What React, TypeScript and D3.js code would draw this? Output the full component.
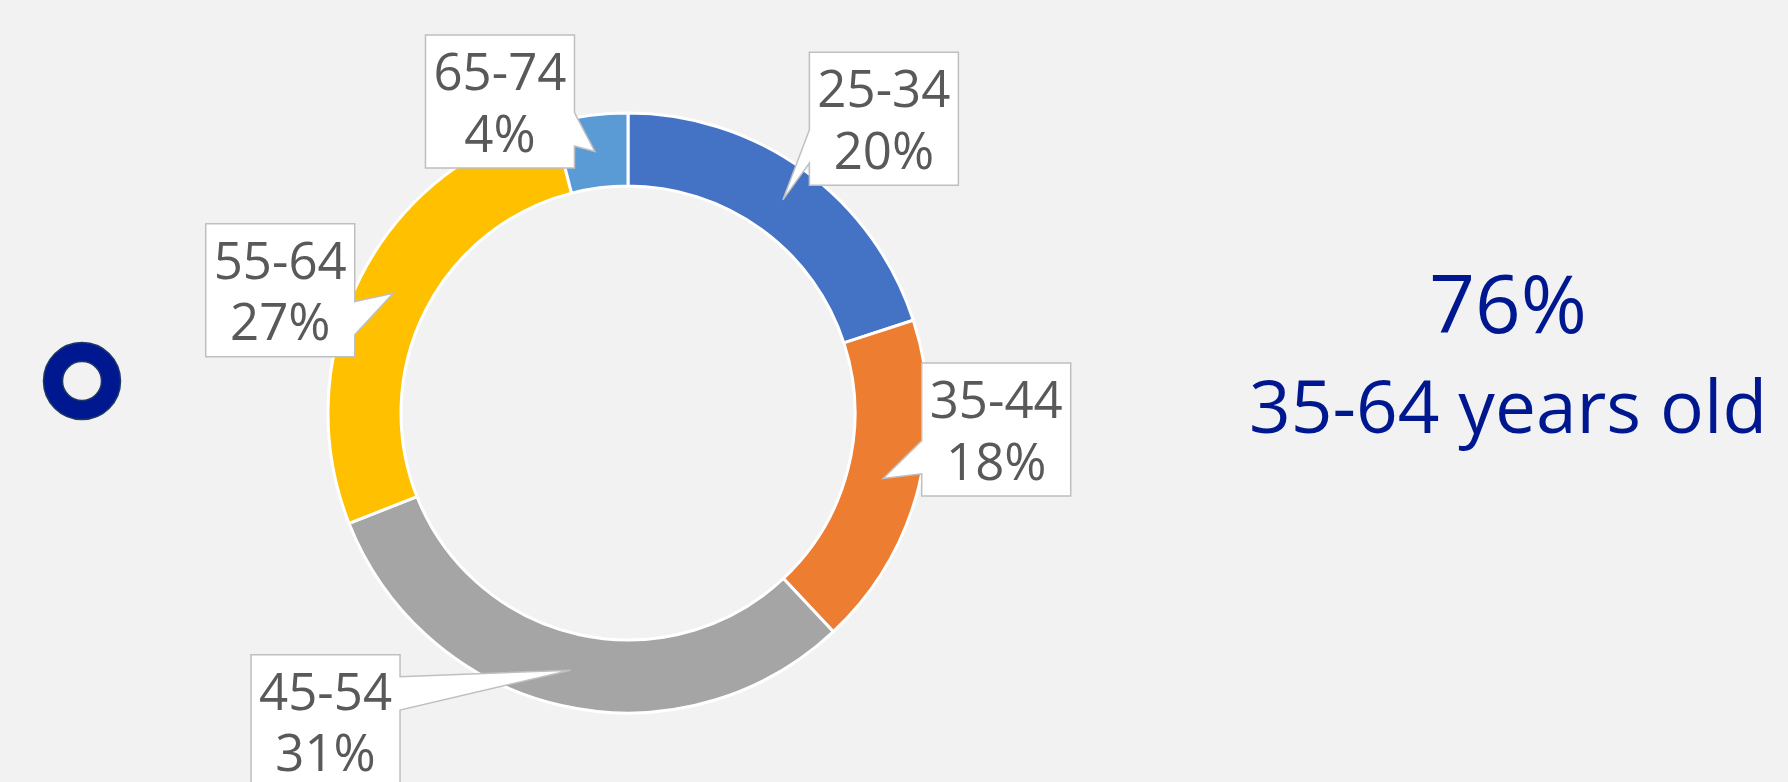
import { arc, pie, select, PieArcDatum } from 'd3'
import { useEffect, useRef } from 'react'

const ageGroups = ['25-34', '35-44', '45-54', '55-64', '65-74']
const shares = [20, 18, 31, 27, 4]
const sliceColors = ['#4472C4', '#ED7D31', '#A5A5A5', '#FFC000', '#5B9BD5']

const headline = '76%'
const headlineCaption = '35-64 years old'

// callout placement (Excel's dragged labels): box centre offset from the pointer tip,
// the tip itself sits on the slice centroid
const labelOffsets = [
  { dx: 101, dy: -81 },
  { dx: 113, dy: -49 },
  { dx: -245, dy: 51 },
  { dx: -113, dy: -3 },
  { dx: -95, dy: -50 },
]

interface Slice {
  group: string
  share: number
  color: string
}

const WIDTH = 1788
const HEIGHT = 782
const FONT = "'Open Sans', 'Noto Sans', sans-serif"

function calloutPath(cx: number, cy: number, w: number, h: number, tx: number, ty: number) {
  const x0 = cx - w / 2
  const y0 = cy - h / 2
  const x1 = cx + w / 2
  const y1 = cy + h / 2
  const rx = tx - cx
  const ry = ty - cy
  const pts: [number, number][] = []
  if (Math.abs(rx) * h > Math.abs(ry) * w) {
    // wedge leaves a vertical edge
    const a = ry > 0 ? y0 + (h * 7) / 12 : y0 + (h * 2) / 12
    const b = ry > 0 ? y0 + (h * 10) / 12 : y0 + (h * 5) / 12
    if (rx > 0) {
      pts.push([x0, y0], [x1, y0], [x1, a], [tx, ty], [x1, b], [x1, y1], [x0, y1])
    } else {
      pts.push([x0, y0], [x1, y0], [x1, y1], [x0, y1], [x0, b], [tx, ty], [x0, a])
    }
  } else {
    const a = rx > 0 ? x0 + (w * 7) / 12 : x0 + (w * 2) / 12
    const b = rx > 0 ? x0 + (w * 10) / 12 : x0 + (w * 5) / 12
    if (ry > 0) {
      pts.push([x0, y0], [x1, y0], [x1, y1], [b, y1], [tx, ty], [a, y1], [x0, y1])
    } else {
      pts.push([x0, y0], [a, y0], [tx, ty], [b, y0], [x1, y0], [x1, y1], [x0, y1])
    }
  }
  return 'M' + pts.map((p) => p.join(',')).join('L') + 'Z'
}

function Donut() {
  const ref = useRef<SVGSVGElement>(null)

  useEffect(() => {
    if (!ref.current) return
    const svg = select(ref.current)
    svg.selectAll('*').remove()

    const data: Slice[] = ageGroups.map((group, i) => ({ group, share: shares[i], color: sliceColors[i] }))

    const center = { x: 628, y: 413 }
    const outer = 300
    const inner = 227

    svg.append('rect').attr('width', WIDTH).attr('height', HEIGHT).attr('fill', '#F2F2F2')

    // bullet ring on the left
    svg
      .append('circle')
      .attr('cx', 82)
      .attr('cy', 381)
      .attr('r', 29)
      .attr('fill', 'none')
      .attr('stroke', '#00188F')
      .attr('stroke-width', 19)
    svg.append('circle').attr('cx', 82).attr('cy', 381).attr('r', 38.5).attr('fill', 'none').attr('stroke', '#1F3864').attr('stroke-width', 1.5)
    svg.append('circle').attr('cx', 82).attr('cy', 381).attr('r', 19.5).attr('fill', 'none').attr('stroke', '#1F3864').attr('stroke-width', 1.5)

    const pieGen = pie<Slice>()
      .value((d) => d.share)
      .sort(null)
    const arcs = pieGen(data)
    const arcGen = arc<PieArcDatum<Slice>>().innerRadius(inner).outerRadius(outer)

    const g = svg.append('g').attr('transform', `translate(${center.x}, ${center.y})`)
    g.selectAll('path')
      .data(arcs)
      .join('path')
      .attr('d', arcGen)
      .attr('fill', (d) => d.data.color)
      .attr('stroke', '#FFFFFF')
      .attr('stroke-width', 3)
      .attr('stroke-linejoin', 'round')

    const boxW = 149
    const boxH = 133
    const labels = g.selectAll('g.label').data(arcs).join('g').attr('class', 'label')
    labels.each(function (d, i) {
      const off = labelOffsets[i]
      const [tx, ty] = arcGen.centroid(d)
      const cx = tx + off.dx
      const cy = ty + off.dy
      const el = select(this)
      el.append('path')
        .attr('d', calloutPath(cx, cy, boxW, boxH, tx, ty))
        .attr('fill', '#FFFFFF')
        .attr('stroke', '#BFBFBF')
        .attr('stroke-width', 1.5)
      const top = cy - boxH / 2
      el.append('text')
        .attr('x', cx)
        .attr('y', top + 55)
        .attr('text-anchor', 'middle')
        .attr('font-family', FONT)
        .attr('font-size', 51)
        .attr('fill', '#595959')
        .text(d.data.group)
      el.append('text')
        .attr('x', cx)
        .attr('y', top + 116.5)
        .attr('text-anchor', 'middle')
        .attr('font-family', FONT)
        .attr('font-size', 51)
        .attr('fill', '#595959')
        .text(`${d.data.share}%`)
    })

    // key figure on the right
    svg
      .append('text')
      .attr('x', 1508)
      .attr('y', 333)
      .attr('text-anchor', 'middle')
      .attr('font-family', FONT)
      .attr('font-size', 80)
      .attr('fill', '#00188F')
      .text(headline)
    svg
      .append('text')
      .attr('x', 1508)
      .attr('y', 433)
      .attr('text-anchor', 'middle')
      .attr('font-family', FONT)
      .attr('font-size', 73)
      .attr('fill', '#00188F')
      .text(headlineCaption)
  }, [])

  return (
    <svg
      ref={ref}
      width={WIDTH}
      height={HEIGHT}
      style={{ position: 'absolute', left: 0, top: 0, display: 'block' }}
    />
  )
}

export default function App() {
  return <Donut />
}
